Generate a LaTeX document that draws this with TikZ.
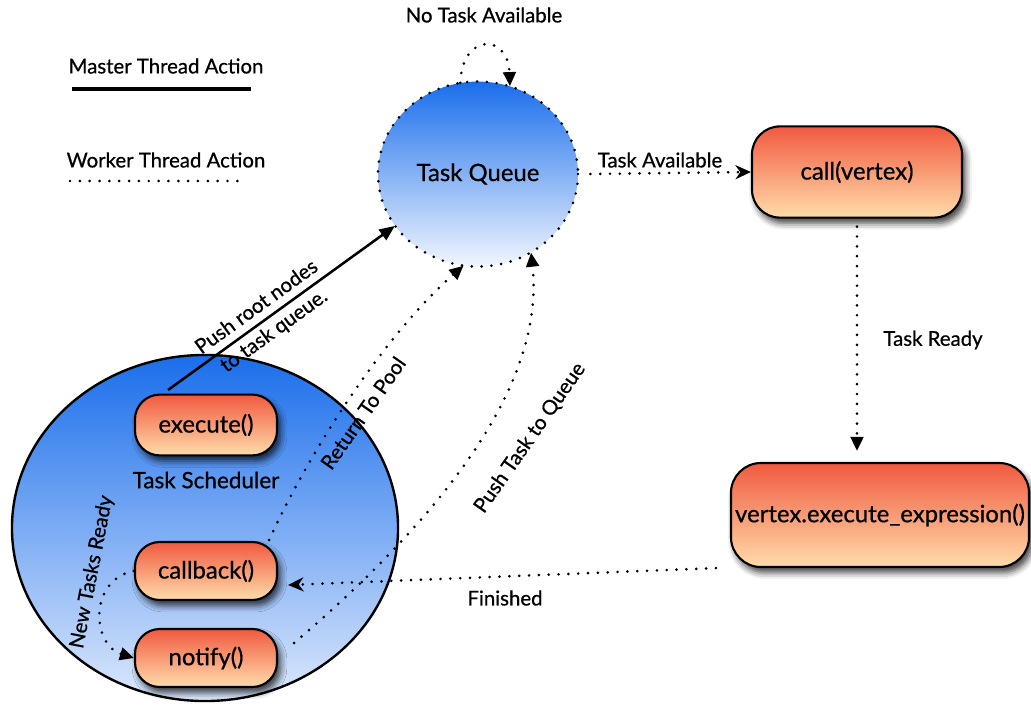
\documentclass[tikz,border=0pt]{standalone}
\usepackage{fontspec}
\setmainfont{Lato}[FakeBold=0.7]
\usetikzlibrary{arrows.meta,shadows.blur,calc,shapes.geometric}

\definecolor{fnTop}{HTML}{F05A40}
\definecolor{fnBottom}{HTML}{FFDCAA}
\definecolor{poolTop}{HTML}{1A6EEB}
\definecolor{poolBottom}{HTML}{F2F6FE}

\begin{document}
\begin{tikzpicture}[x=0.025cm,y=-0.025cm,
  lbl/.style={font=\fontsize{14.5}{17}\selectfont, inner sep=1pt},
  master/.style={line width=1.8pt},
  worker/.style={line width=2.1pt, dash pattern=on 0pt off 7pt, line cap=round},
  wtip/.style={-{Triangle[length=10pt,width=9pt]}},
  stip/.style={-{Stealth[length=11pt,width=10pt,inset=3.5pt]}},
  fnbox/.style={draw=black, line width=1.5pt, rounded corners=0.62cm,
    top color=fnTop, bottom color=fnBottom, inner sep=2pt,
    font=\fontsize{17}{20}\selectfont,
    blur shadow={shadow xshift=2.5pt, shadow yshift=-4pt,
      shadow blur radius=4.5pt, shadow opacity=75}},
  pool/.style={ellipse, top color=poolTop, bottom color=poolBottom, inner sep=0pt},
]
\useasboundingbox (0,0) rectangle (1031,708);

% legend
\node[lbl] (lmaster) at (166,66) {Master Thread Action};
\coordinate (lm1) at (72,89);
\coordinate (lm2) at (251,89);
\draw[master, line width=2.3pt] (lm1) -- (lm2);
\node[lbl] (lworker) at (166,160) {Worker Thread Action};
\coordinate (lw1) at (70,181);
\coordinate (lw2) at (247,181);
\draw[worker] (lw1) -- (lw2);

% scheduler and queue
\node[pool, draw=black, line width=1.7pt, minimum width=9.65cm, minimum height=8.65cm,
  top color=poolTop, bottom color=poolBottom!90!poolTop] (sched) at (205,528) {};
\node[pool, minimum width=5cm, minimum height=4.62cm,
  font=\fontsize{17}{20}\selectfont] (queue) at (478,174) {Task Queue};
\draw[worker] (queue.center) ellipse [x radius=100, y radius=92.5];

\node[lbl, font=\fontsize{16}{19}\selectfont] (schedlbl) at (206,480) {Task Scheduler};

% function boxes
\node[fnbox, minimum width=3.55cm, minimum height=1.52cm] (execute) at (206,425) {execute()};
\node[fnbox, minimum width=3.55cm, minimum height=1.45cm] (callback) at (206,571) {callback()};
\node[fnbox, minimum width=3.55cm, minimum height=1.45cm] (notify) at (206,658) {notify()};
\node[fnbox, minimum width=5.25cm, minimum height=2.28cm, rounded corners=0.7cm] (call) at (857,172) {call(vertex)};
\node[fnbox, minimum width=7.45cm, minimum height=2.6cm, rounded corners=0.75cm] (exec) at (880,515) {vertex.execute\_expression()};

% master thread: seed the queue
\coordinate (seed) at (168,390);
\draw[master, -{Triangle[length=11pt,width=9pt]}] (seed) -- (queue.212)
  node[pos=0.43, sloped, lbl, align=center, font=\fontsize{14.5}{21}\selectfont] (pushlbl) {Push root nodes\\to task queue.};

% worker thread actions
\draw[worker, wtip] (queue.101) .. controls (462,33) and (508,33) .. (queue.70);
\node[lbl] (notask) at (484,15) {No Task Available};

\draw[worker, stip] ([xshift=0.3cm]queue.east) -- (call.west);
\node[lbl] (avail) at (660,160) {Task Available};

\coordinate (ready1) at ($(call.south)+(0,8)$);
\coordinate (ready2) at ($(call.south |- exec.north)+(0,-11)$);
\draw[worker, wtip] (ready1) -- (ready2);
\node[lbl] (readylbl) at (933,340) {Task Ready};

\coordinate (fin1) at ([xshift=-0.35cm]exec.south west);
\draw[worker, stip] (fin1) -- ([shift={(10,14)}]callback.east);
\node[lbl] (finlbl) at (505,598) {Finished};

\draw[worker, wtip] ([shift={(-9,-31)}]callback.east) .. controls (315,440) and (390,330) .. (queue.261);
\node[lbl, rotate=55] (poollbl) at (363,413) {Return To Pool};

\draw[worker, wtip] ([shift={(16,-15)}]notify.east) .. controls (450,510) and (545,380) .. (queue.304);
\node[lbl, rotate=55] (pushq) at (530,438) {Push Task to Queue};

\draw[worker, wtip] (callback.west) .. controls (88,580) and (92,645) .. (notify.west);
\node[lbl, rotate=79] (newlbl) at (92,572) {New Tasks Ready};

\end{tikzpicture}
\end{document}
